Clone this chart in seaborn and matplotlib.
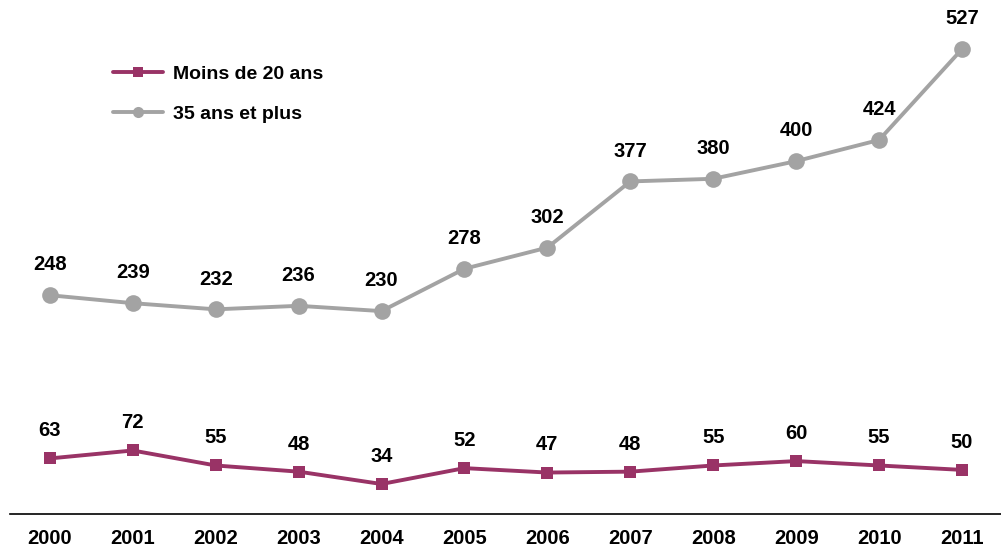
import numpy as np
import pandas as pd
import seaborn as sns
import matplotlib
matplotlib.use("Agg")
import matplotlib.pyplot as plt
from matplotlib.lines import Line2D

# Données
annees = [2000, 2001, 2002, 2003, 2004, 2005, 2006, 2007, 2008, 2009, 2010, 2011]
moins_20 = [63, 72, 55, 48, 34, 52, 47, 48, 55, 60, 55, 50]
plus_35 = [248, 239, 232, 236, 230, 278, 302, 377, 380, 400, 424, 527]

couleur_moins = "#993366"
couleur_plus = "#A3A3A3"

sns.set_style("white")
plt.rcParams['font.family'] = ['Liberation Sans', 'DejaVu Sans']
plt.rcParams['text.color'] = 'black'
plt.rcParams['xtick.color'] = 'black'

df = pd.DataFrame({"annee": annees, "Moins de 20 ans": moins_20, "35 ans et plus": plus_35})

fig = plt.figure(figsize=(10.01, 5.47), dpi=100)
ax = fig.add_axes([10 / 1001, 33 / 547, 991 / 1001, 494 / 547])

sns.lineplot(data=df, x="annee", y="Moins de 20 ans", ax=ax, color=couleur_moins,
             marker="s", markersize=9, markeredgewidth=0, linewidth=2.8)
sns.lineplot(data=df, x="annee", y="35 ans et plus", ax=ax, color=couleur_plus,
             marker="o", markersize=12, markeredgewidth=0, linewidth=2.8)

# Étiquettes de valeurs
for x, y in zip(annees, moins_20):
    ax.annotate(str(y), (x, y), xytext=(0, 13), textcoords="offset points",
                ha="center", va="bottom", fontsize=14.5, fontweight="bold")
for x, y in zip(annees, plus_35):
    ax.annotate(str(y), (x, y), xytext=(0, 15), textcoords="offset points",
                ha="center", va="bottom", fontsize=14.5, fontweight="bold")

ax.set_xlim(1999.52, 2011.47)
ax.set_ylim(0, 560)
ax.set_xticks(annees)
ax.set_xticklabels([str(a) for a in annees], fontsize=14.5, fontweight="bold")
ax.tick_params(axis="x", length=0, pad=11)
ax.set_yticks([])
ax.set_xlabel("")
ax.set_ylabel("")
for s in ["top", "right", "left"]:
    ax.spines[s].set_visible(False)
ax.spines["bottom"].set_color("black")
ax.spines["bottom"].set_linewidth(1.2)

handles = [
    Line2D([], [], color=couleur_moins, marker="s", markersize=7, markeredgewidth=0, linewidth=2.8),
    Line2D([], [], color=couleur_plus, marker="o", markersize=8, markeredgewidth=0, linewidth=2.8),
]
ax.legend(handles, ["Moins de 20 ans", "35 ans et plus"], loc="upper left",
          bbox_to_anchor=(0.086, 0.943), frameon=False,
          handlelength=2.6, labelspacing=1.15, handletextpad=0.5,
          prop={"size": 14, "weight": "bold"})

fig.savefig("out.png", dpi=100)
